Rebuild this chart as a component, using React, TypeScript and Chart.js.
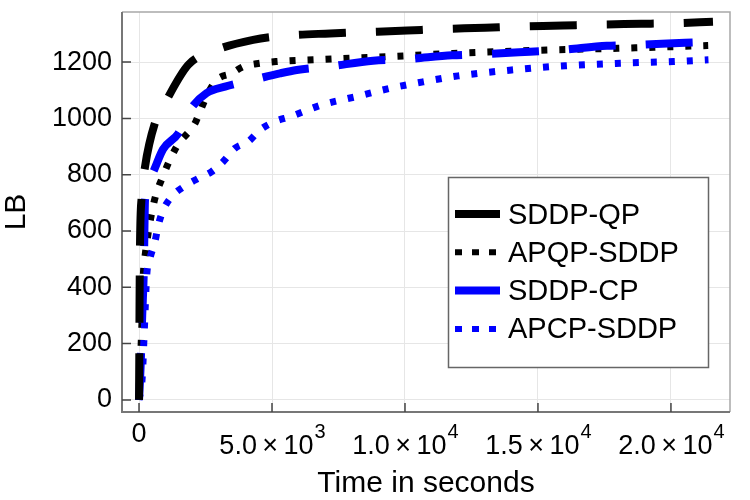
import React, { useEffect, useRef } from "react";
import { Chart, registerables } from "chart.js";

Chart.register(...registerables);

const FONT = '"Liberation Sans", Arial, Helvetica, sans-serif';

// SDDP-QP
const qpTime = [0, 10, 20, 38, 100, 225, 600, 1040, 1850, 2730, 4290, 5410, 7180, 8310, 10080, 11240, 13010, 14140, 15940, 17070, 18880, 20040, 21580];
const qpLB = [0, 150, 350, 558, 722, 828, 984, 1066, 1190, 1237, 1279, 1293, 1302, 1306, 1312, 1317, 1322, 1326, 1330, 1333, 1336, 1338, 1343];

// APQP-SDDP
const apqpTime = [0, 60, 120, 163, 225, 540, 918, 1417, 2106, 2290, 2545, 2920, 3485, 3920, 4550, 5180, 5930, 6550, 7930, 9930, 11800, 13500, 15340, 18010, 21400];
const apqpLB = [0, 150, 300, 444, 509, 693, 799, 900, 983, 1024, 1080, 1137, 1160, 1184, 1196, 1202, 1206, 1208, 1214, 1222, 1231, 1237, 1243, 1249, 1259];

// SDDP-CP
const cpTime = [0, 60, 120, 180, 225, 380, 540, 900, 1480, 1917, 2545, 3234, 4290, 5300, 5930, 7110, 8800, 10000, 11770, 12890, 14700, 15830, 17590, 18720, 20530, 21200];
const cpLB = [0, 120, 300, 460, 710, 780, 811, 890, 947, 1030, 1090, 1113, 1137, 1160, 1172, 1184, 1205, 1210, 1224, 1228, 1237, 1243, 1258, 1261, 1269, 1271];

// APCP-SDDP
const apcpTime = [0, 120, 200, 290, 414, 600, 726, 914, 1229, 1730, 2230, 2733, 3170, 3610, 4110, 4550, 5114, 5680, 6870, 8190, 9440, 10690, 12000, 14010, 16020, 18090, 20090, 21410];
const apcpLB = [0, 80, 250, 444, 504, 562, 621, 675, 722, 760, 787, 811, 847, 894, 918, 959, 989, 1006, 1048, 1078, 1107, 1130, 1151, 1172, 1187, 1196, 1202, 1208];

const seriesLabels = ["SDDP-QP", "APQP-SDDP", "SDDP-CP", "APCP-SDDP"];
const xTickValues = [0, 5000, 10000, 15000, 20000];
const yTickValues = [0, 200, 400, 600, 800, 1000, 1200];

const toPoints = (t: number[], v: number[]) => t.map((x, i) => ({ x, y: v[i] }));

// line looks per series
const looks = [
  { color: "#000000", width: 8, dash: [47, 30], legendDash: [], legendWidth: 8 },
  { color: "#000000", width: 7, dash: [6, 12], legendDash: [7, 10], legendWidth: 6 },
  { color: "#0000ff", width: 8, dash: [47, 30], legendDash: [], legendWidth: 8 },
  { color: "#0000ff", width: 7, dash: [6, 12], legendDash: [7, 10], legendWidth: 6 },
];

const framePlugin = {
  id: "frame",
  beforeDatasetsDraw(chart: any) {
    const { ctx, chartArea: a, scales } = chart;
    ctx.save();
    ctx.lineCap = "butt";
    ctx.strokeStyle = "#a8a8a8";
    ctx.lineWidth = 1.5;
    ctx.beginPath();
    ctx.moveTo(a.left, a.top);
    ctx.lineTo(a.right, a.top);
    ctx.lineTo(a.right, a.bottom);
    ctx.stroke();

    ctx.strokeStyle = "#777777";
    ctx.lineWidth = 2;
    ctx.beginPath();
    ctx.moveTo(a.left, a.top);
    ctx.lineTo(a.left, a.bottom);
    ctx.lineTo(a.right, a.bottom);
    ctx.stroke();

    // inward tick marks
    ctx.strokeStyle = "#444444";
    ctx.lineWidth = 1.5;
    ctx.beginPath();
    scales.y.ticks.forEach((t: any) => {
      const y = scales.y.getPixelForValue(t.value);
      ctx.moveTo(a.left, y);
      ctx.lineTo(a.left + 9, y);
    });
    scales.x.ticks.forEach((t: any) => {
      const x = scales.x.getPixelForValue(t.value);
      ctx.moveTo(x, a.bottom);
      ctx.lineTo(x, a.bottom - 9);
    });
    ctx.stroke();

    // x tick labels in a×10^n form
    ctx.fillStyle = "#000000";
    ctx.textBaseline = "alphabetic";
    scales.x.ticks.forEach((t: any) => {
      const x = scales.x.getPixelForValue(t.value);
      const v = t.value;
      if (v === 0) {
        ctx.font = `27px ${FONT}`;
        ctx.textAlign = "center";
        ctx.fillText("0", x, a.bottom + 30);
        return;
      }
      const exp = Math.floor(Math.log10(v));
      const main = `${(v / Math.pow(10, exp)).toFixed(1)}\u2009×\u200910`;
      const sup = String(exp);
      ctx.font = `27px ${FONT}`;
      const wMain = ctx.measureText(main).width;
      ctx.font = `20px ${FONT}`;
      const wSup = ctx.measureText(sup).width;
      const start = x - (wMain + wSup) / 2;
      ctx.textAlign = "left";
      ctx.font = `27px ${FONT}`;
      ctx.fillText(main, start, a.bottom + 42);
      ctx.font = `20px ${FONT}`;
      ctx.fillText(sup, start + wMain + 1, a.bottom + 26);
    });
    ctx.restore();
  },
};

const legendPlugin = {
  id: "boxLegend",
  afterDatasetsDraw(chart: any) {
    const { ctx } = chart;
    const bx = 448;
    const by = 177;
    const bw = 260;
    const bh = 190;
    ctx.save();
    ctx.fillStyle = "#ffffff";
    ctx.fillRect(bx, by, bw, bh);
    ctx.strokeStyle = "#666666";
    ctx.lineWidth = 1.5;
    ctx.strokeRect(bx + 0.5, by + 0.5, bw, bh);
    ctx.font = `29px ${FONT}`;
    ctx.textBaseline = "middle";
    ctx.textAlign = "left";
    chart.data.datasets.forEach((ds: any, i: number) => {
      const y = by + 37 + i * 38.3;
      const look = looks[i];
      ctx.strokeStyle = look.color;
      ctx.lineWidth = look.legendWidth;
      ctx.setLineDash(look.legendDash);
      ctx.lineCap = "butt";
      ctx.beginPath();
      ctx.moveTo(bx + 7, y);
      ctx.lineTo(bx + 52, y);
      ctx.stroke();
      ctx.setLineDash([]);
      ctx.fillStyle = "#000000";
      ctx.fillText(ds.label, bx + 60, y + 1.5);
    });
    ctx.restore();
  },
};

const LBChart = () => {
  const chartRef = useRef<HTMLCanvasElement | null>(null);

  useEffect(() => {
    if (!chartRef.current) return;
    const ctx = chartRef.current.getContext("2d");
    if (!ctx) return;

    const series = [
      toPoints(qpTime, qpLB),
      toPoints(apqpTime, apqpLB),
      toPoints(cpTime, cpLB),
      toPoints(apcpTime, apcpLB),
    ];
    const drawOrder = [0, 3, 1, 2];

    const chart = new Chart(ctx, {
      type: "line",
      data: {
        datasets: series.map((data, i) => ({
          label: seriesLabels[i],
          data,
          borderColor: looks[i].color,
          borderWidth: looks[i].width,
          borderDash: looks[i].dash,
          borderCapStyle: "butt",
          pointRadius: 0,
          cubicInterpolationMode: "monotone",
          fill: false,
          order: drawOrder[i],
        })),
      },
      options: {
        responsive: false,
        animation: false,
        layout: { padding: { left: 0, top: 12, right: 20, bottom: 0 } },
        plugins: {
          legend: { display: false },
          tooltip: { enabled: false },
        },
        scales: {
          x: {
            type: "linear",
            min: -640,
            max: 22220,
            afterBuildTicks: (scale: any) => {
              scale.ticks = xTickValues.map((value) => ({ value }));
            },
            afterFit: (scale: any) => {
              scale.height = 88;
              scale.paddingLeft = 0;
              scale.paddingRight = 0;
            },
            ticks: { display: false },
            grid: { color: "#e6e6e6", lineWidth: 1, drawTicks: false },
            border: { display: false },
            title: {
              display: true,
              text: "Time in seconds",
              color: "#000000",
              font: { family: FONT, size: 30, lineHeight: 1.1 },
              padding: 0,
            },
          },
          y: {
            type: "linear",
            min: -43,
            max: 1378,
            afterBuildTicks: (scale: any) => {
              scale.ticks = yTickValues.map((value) => ({ value }));
            },
            afterFit: (scale: any) => {
              scale.width = 122;
              scale.paddingTop = 0;
              scale.paddingBottom = 0;
            },
            ticks: {
              color: "#000000",
              padding: 10,
              font: { family: FONT, size: 27 },
              callback: (value: any) => String(value),
            },
            grid: { color: "#e6e6e6", lineWidth: 1, drawTicks: false },
            border: { display: false },
            title: {
              display: true,
              text: "LB",
              color: "#000000",
              font: { family: FONT, size: 30, lineHeight: 1.1 },
              padding: 0,
            },
          },
        },
      },
      plugins: [framePlugin, legendPlugin],
    } as any);

    return () => {
      chart.destroy();
    };
  }, []);

  return <canvas ref={chartRef} width={750} height={500} style={{ display: "block" }} />;
};

export default function App() {
  return (
    <div style={{ position: "fixed", left: 0, top: 0, width: 750, height: 500, background: "#ffffff" }}>
      <LBChart />
    </div>
  );
}
